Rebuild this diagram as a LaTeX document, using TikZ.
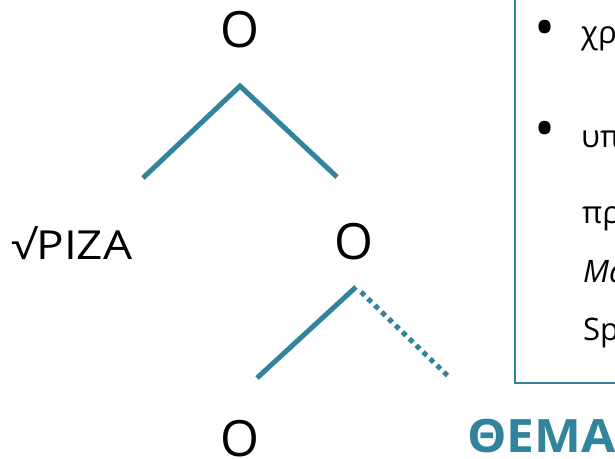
\documentclass[tikz,border=0pt]{standalone}
\usepackage{fontspec}
\setmainfont{Open Sans}
\definecolor{teal1}{HTML}{31849B}
\tikzset{
  branch/.style={draw=teal1, line width=5pt, line cap=butt},
  dotbranch/.style={draw=teal1, line width=5pt, line cap=butt, dash pattern=on 5pt off 4.6pt},
  bignode/.style={inner sep=0pt, font=\fontsize{50}{56}\selectfont},
  lbl/.style={inner sep=0pt, font=\fontsize{40}{48}\selectfont},
  boxtxt/.style={inner sep=0pt, anchor=base west, font=\fontsize{31}{37}\selectfont},
  bullettxt/.style={inner sep=0pt, font=\fontsize{56}{60}\selectfont},
  framebox/.style={draw=teal1, line width=2pt},
}
\begin{document}
\begin{tikzpicture}[x=1pt,y=-1pt]
\useasboundingbox (0,0) rectangle (615,458);
% box
\draw[framebox] (515,-10) rectangle (650,383);
\node[bullettxt] (b1) at (545,34) {•};
\node[bullettxt] (b2) at (545,135) {•};
\node[boxtxt] (t1) at (581,43) {χρ};
\node[boxtxt] (t2) at (581,147) {υπ};
\node[boxtxt] (t3) at (582,223) {πρ};
\node[boxtxt] (t4) at (583,282) {\itshape Ma};
\node[boxtxt] (t5) at (583,340) {Sp};
% tree labels
\node[bignode] (o1) at (240,30) {O};
\node[bignode] (o2) at (354,242) {O};
\node[bignode] (o3) at (240,439) {O};
\node[lbl, anchor=base west] (root) at (11,259) {\scalebox{1.15}[1]{√ΡΙΖΑ}};
\node[inner sep=0pt, anchor=base west, text=teal1, font=\fontsize{46}{52}\selectfont\bfseries] (thema) at (467,452) {\scalebox{1.08}[1]{ΘΕΜΑ}};
% branch points
\coordinate (a1) at (240,86);
\coordinate (l1) at (143,178);
\coordinate (r1) at (337,177);
\coordinate (a2) at (356,287);
\coordinate (l2) at (257,378);
\coordinate (d2s) at (361,292);
\coordinate (r2) at (450,378);
\draw[branch] (l1) -- (a1) -- (r1);
\draw[branch] (l2) -- (a2);
\draw[dotbranch] (d2s) -- (r2);
\end{tikzpicture}
\end{document}
